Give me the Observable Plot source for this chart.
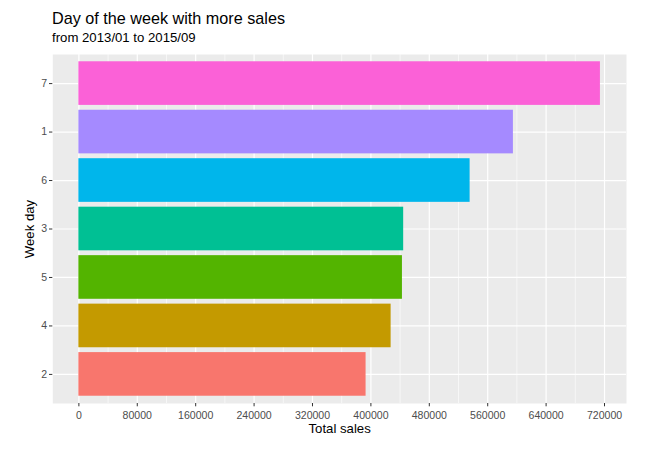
<!DOCTYPE html>
<html>
<head>
<meta charset="utf-8">
<script src="https://cdn.jsdelivr.net/npm/d3@7"></script>
<script src="https://cdn.jsdelivr.net/npm/@observablehq/plot@0.6"></script>
<style>
  body { margin: 0; background: #fff; font-family: "Liberation Sans", Arial, Helvetica, sans-serif; }
  #wrap { position: relative; width: 661px; }
  #hdr { position: relative; height: 50px; width: 661px; }
  #title { position: absolute; left: 52px; top: 10px; font-size: 16.2px; line-height: 16.2px; color: #000; white-space: nowrap; }
  #subtitle { position: absolute; left: 52px; top: 31.3px; font-size: 13.2px; line-height: 13.2px; color: #000; white-space: nowrap; }
  #chart svg { display: block; }
</style>
</head>
<body>
<div id="wrap">
  <div id="hdr">
    <div id="title">Day of the week with more sales</div>
    <div id="subtitle">from 2013/01 to 2015/09</div>
  </div>
  <div id="chart"></div>
</div>
<script>
// Categories, top to bottom (ordered by total sales)
const weekDays = ["7", "1", "6", "3", "5", "4", "2"];
// Total sales per week day
const totalSales = [714400, 595200, 535900, 444900, 443200, 427700, 393400];
// Bar colours (ggplot hue palette, by rank)
const barColors = ["#FB61D7", "#A58AFF", "#00B6EB", "#00C094", "#53B400", "#C49A00", "#F8766D"];
// Axis ticks
const xTicks = [0, 80000, 160000, 240000, 320000, 400000, 480000, 560000, 640000, 720000];
const xMinorTicks = [40000, 120000, 200000, 280000, 360000, 440000, 520000, 600000, 680000];

const data = weekDays.map((d, i) => ({ day: d, sales: totalSales[i], color: barColors[i] }));
const maxSales = d3.max(totalSales);
const pad = maxSales * 0.05;

const chart = Plot.plot({
  width: 661,
  height: 412,
  marginTop: 4,
  marginBottom: 59,
  marginLeft: 52.3,
  marginRight: 35,
  style: { fontFamily: '"Liberation Sans", Arial, Helvetica, sans-serif', fontSize: "10.56px", background: "#fff" },
  x: { domain: [-pad, maxSales + pad] },
  y: { domain: weekDays, paddingInner: 0.1, paddingOuter: 0.15, round: false },
  color: { type: "identity" },
  marks: [
    Plot.frame({ fill: "#EBEBEB", stroke: null }),
    Plot.gridX(xMinorTicks, { stroke: "#ffffff", strokeOpacity: 1, strokeWidth: 0.6 }),
    Plot.gridX(xTicks, { stroke: "#ffffff", strokeOpacity: 1, strokeWidth: 1.2 }),
    Plot.gridY({ stroke: "#ffffff", strokeOpacity: 1, strokeWidth: 1.2 }),
    Plot.barX(data, { x: "sales", y: "day", fill: "color" }),
    Plot.axisX(xTicks, {
      tickSize: 3.3, tickPadding: 4.7, tickFormat: d => String(d),
      stroke: "#333333", fill: "#4D4D4D", label: null
    }),
    Plot.axisY({
      tickSize: 3.3, tickPadding: 2.5,
      stroke: "#333333", fill: "#4D4D4D", label: null
    }),
    Plot.text(["Total sales"], {
      frameAnchor: "bottom", lineAnchor: "middle", dy: 25, text: d => d,
      fontSize: 13.2, fill: "#000"
    }),
    Plot.text(["Week day"], {
      frameAnchor: "left", lineAnchor: "middle", textAnchor: "middle", dx: -23.5, rotate: -90,
      text: d => d, fontSize: 13.2, fill: "#000"
    })
  ]
});
document.getElementById("chart").appendChild(chart);
</script>
</body>
</html>
